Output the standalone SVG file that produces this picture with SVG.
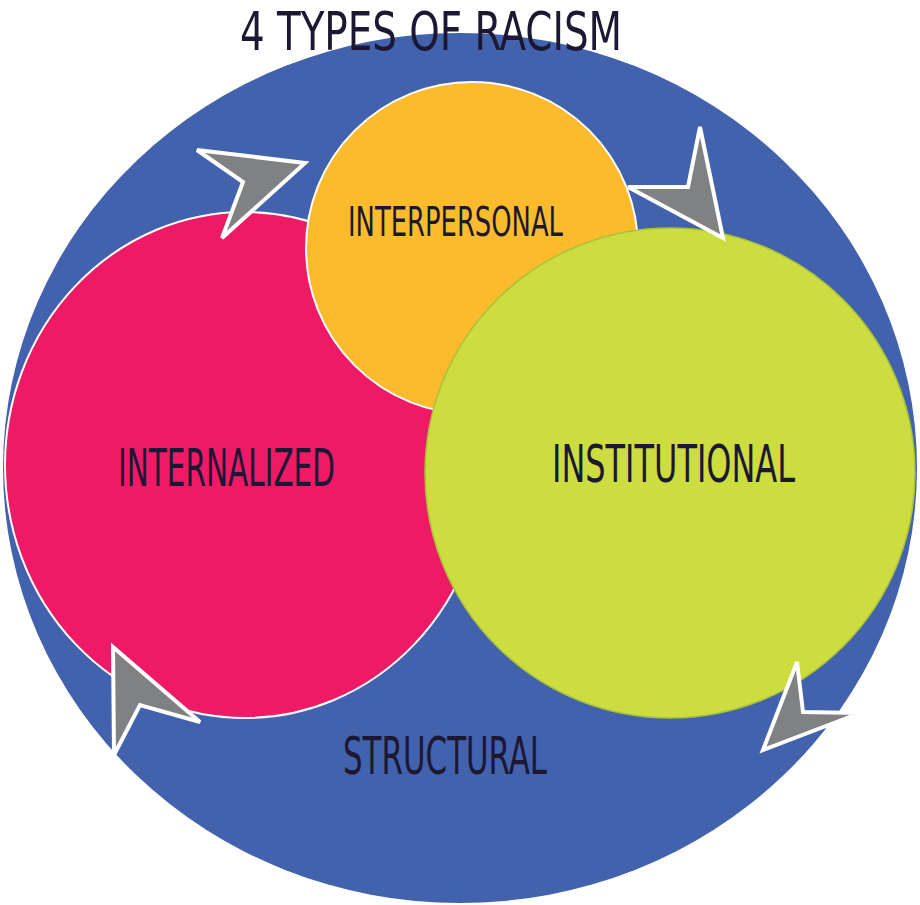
<svg xmlns="http://www.w3.org/2000/svg" width="920" height="905" viewBox="0 0 920 905">
<style>
.lbl{font-family:"DejaVu Sans Condensed","Liberation Sans Narrow","Liberation Sans",sans-serif;fill:#1c1733;}
.arrow{fill:#808182;stroke:#ffffff;stroke-width:4;stroke-linejoin:miter;}
</style>
<rect width="920" height="905" fill="#ffffff"/>
<g id="structural">
<ellipse cx="460" cy="468" rx="457" ry="435" fill="#4262ad"/>
<text class="lbl" x="343" y="774" font-size="52" textLength="204" lengthAdjust="spacingAndGlyphs">STRUCTURAL</text>
</g>
<g id="internalized">
<ellipse cx="245" cy="465" rx="240" ry="253" fill="#ee1a66" stroke="#ffffff" stroke-width="2"/>
</g>
<g id="interpersonal">
<circle cx="472" cy="248" r="166" fill="#fbbb2c" stroke="#ffffff" stroke-width="2"/>
</g>
<g id="institutional">
<circle cx="670" cy="473" r="245" fill="#cddc3f" stroke="#a8c23a" stroke-width="1.5"/>
</g>
<g id="labels">
<text class="lbl" x="240" y="50" font-size="54" textLength="382" lengthAdjust="spacingAndGlyphs">4 TYPES OF RACISM</text>
<text class="lbl" x="348" y="236" font-size="40" textLength="215" lengthAdjust="spacingAndGlyphs">INTERPERSONAL</text>
<text class="lbl" x="118" y="486" font-size="52" textLength="217" lengthAdjust="spacingAndGlyphs">INTERNALIZED</text>
<text class="lbl" x="552" y="482" font-size="52" textLength="243" lengthAdjust="spacingAndGlyphs">INSTITUTIONAL</text>
</g>
<g id="connectors">
<polygon class="arrow" points="197,150 305,163 222,238 243,182"/>
<polygon class="arrow" points="700,127 723,238 628,187 688,187"/>
<polygon class="arrow" points="113,647 200,722 140,705 114,755"/>
<polygon class="arrow" points="797,662 803,712 860,713 763,750"/>
</g>
</svg>
